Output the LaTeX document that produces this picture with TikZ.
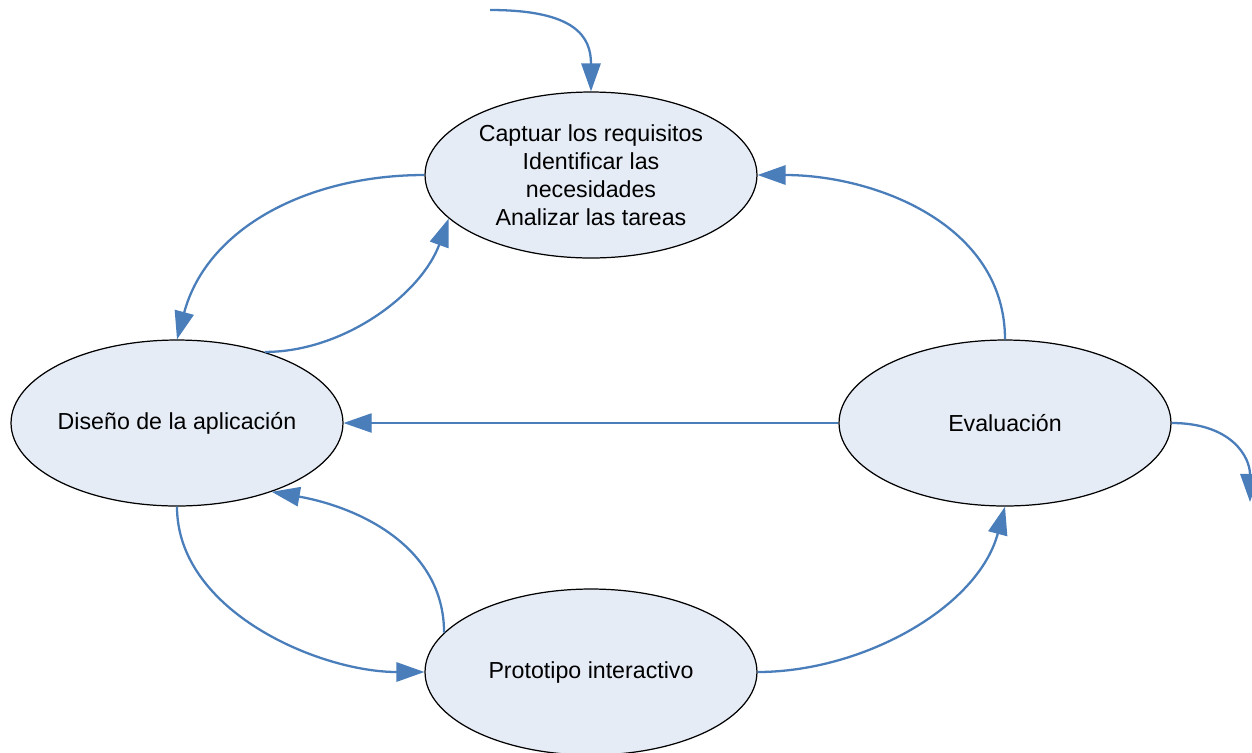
\documentclass[tikz,border=0pt]{standalone}
\usepackage{fontspec}
\setmainfont{Liberation Sans}
\usetikzlibrary{shapes.geometric,arrows.meta}
\definecolor{flowblue}{RGB}{74,126,187}
\definecolor{stagefill}{RGB}{230,236,246}
\begin{document}
\begin{tikzpicture}[x=0.02cm,y=-0.02cm,
  stage/.style={ellipse,draw=black,line width=0.7pt,fill=stagefill,
    minimum width=6.64cm,minimum height=3.32cm,inner xsep=-0.6cm,inner ysep=0pt,
    align=center,font=\fontsize{13.2pt}{15.9pt}\selectfont},
  flow/.style={draw=flowblue,line width=1.3pt,
    -{Triangle[length=16pt,width=11pt]}},
  thinflow/.style={draw=flowblue,line width=0.7pt,
    -{Triangle[length=16pt,width=11pt]}}]
\useasboundingbox (0,0) rectangle (1252,752);

\node[stage] (req) at (591,175) {Captuar los requisitos\\Identificar las\\necesidades\\Analizar las tareas};
\node[stage] (dis) at (177,423) {Diseño de la aplicación};
\node[stage] (eva) at (1005,423) {Evaluación};
\node[stage] (pro) at (591,672) {Prototipo interactivo};

\coordinate (start) at (490,10);
\coordinate (exit) at (1250,502);

\draw[flow] (start) .. controls +(85,0) and +(0,-55) .. (req.north);
\draw[flow] (req.west) to[out=180,in=75,looseness=1.0] (dis.north);
\draw[flow] (dis.39) to[out=0,in=-110,looseness=0.9] (req.197);
\draw[flow] (eva.north) to[out=90,in=0,looseness=1.0] (req.east);
\draw[thinflow] (eva.west) -- (dis.east);
\draw[flow] (eva.east) .. controls +(60,0) and +(0,-45) .. (exit);
\draw[flow] (dis.south) to[out=-90,in=180,looseness=0.9] (pro.west);
\draw[flow] (pro.165) to[out=90,in=-10,looseness=1.0] (dis.-36);
\draw[flow] (pro.east) to[out=0,in=-105,looseness=0.9] (eva.south);
\end{tikzpicture}
\end{document}
